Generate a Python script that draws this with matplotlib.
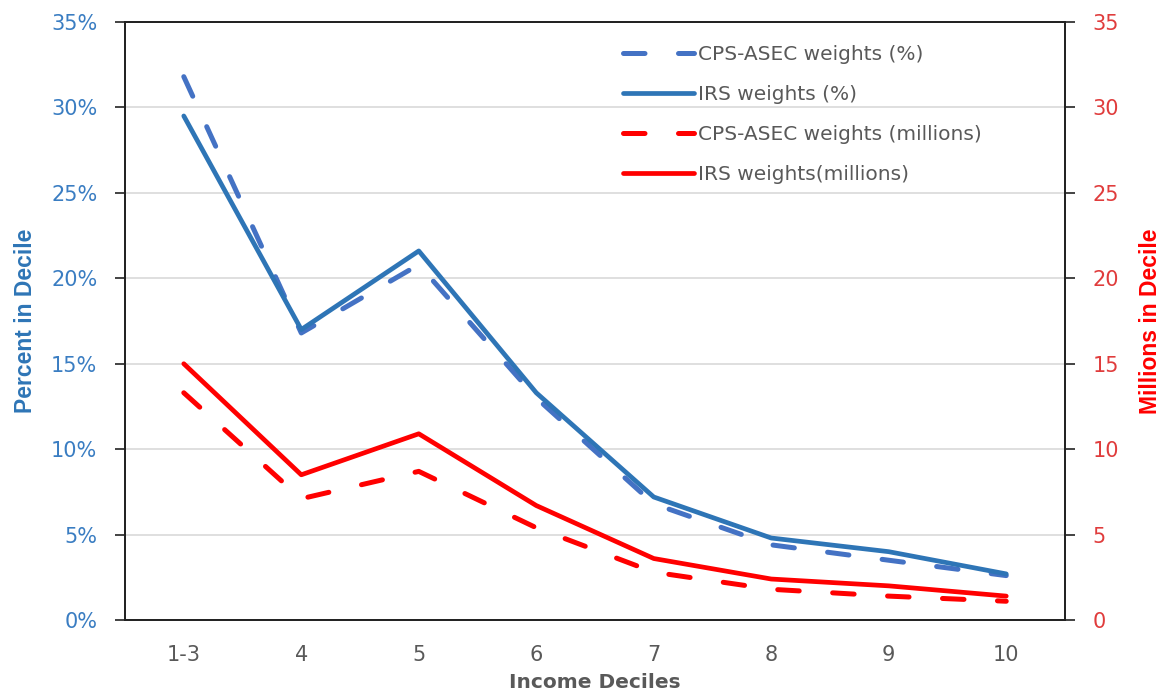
import numpy as np
import matplotlib.pyplot as plt
from matplotlib.ticker import FuncFormatter

# data
deciles = ['1-3', '4', '5', '6', '7', '8', '9', '10']
cps_pct = [31.8, 16.8, 20.8, 13.0, 6.8, 4.4, 3.5, 2.6]
irs_pct = [29.5, 17.0, 21.6, 13.3, 7.2, 4.8, 4.0, 2.7]
cps_mil = [13.3, 7.1, 8.7, 5.4, 2.8, 1.8, 1.4, 1.1]
irs_mil = [15.0, 8.5, 10.9, 6.7, 3.6, 2.4, 2.0, 1.4]

blue_dash = '#4472C4'
blue = '#2E75B6'
red = '#FF0000'
grey = '#595959'
dash = (0, (4.3, 6.7))

fig = plt.figure(figsize=(11.61, 6.98), dpi=100)
ax = fig.add_axes([0.1077, 0.1117, 0.8096, 0.8568])
ax2 = ax.twinx()

x = np.arange(len(deciles))

l1, = ax.plot(x, cps_pct, color=blue_dash, lw=3.6, ls=dash,
              dash_capstyle='round', label='CPS-ASEC weights (%)')
l2, = ax.plot(x, irs_pct, color=blue, lw=3.4, solid_capstyle='round',
              label='IRS weights (%)')
l3, = ax2.plot(x, cps_mil, color=red, lw=3.6, ls=dash,
               dash_capstyle='round', label='CPS-ASEC weights (millions)')
l4, = ax2.plot(x, irs_mil, color=red, lw=3.4, solid_capstyle='round',
               label='IRS weights(millions)')

ax.set_xlim(-0.5, len(deciles) - 0.5)
ax.set_ylim(0, 35)
ax2.set_ylim(0, 35)
ax.set_yticks(np.arange(0, 36, 5))
ax2.set_yticks(np.arange(0, 36, 5))
ax.yaxis.set_major_formatter(FuncFormatter(lambda v, p: '%d%%' % v))

ax.set_xticks(x)
ax.set_xticklabels(deciles)
ax.tick_params(axis='x', length=0, pad=18, labelsize=15, labelcolor=grey)
ax.tick_params(axis='y', length=7, width=1.2, pad=13, labelsize=15,
               labelcolor='#3A7DC2', color='#222222')
ax2.tick_params(axis='y', length=7, width=1.2, pad=13, labelsize=15,
                labelcolor='#E03C3C', color='#222222')

ax.grid(axis='y', color='#D9D9D9', lw=1.2)
ax.set_axisbelow(True)
for a in (ax, ax2):
    for s in a.spines.values():
        s.set_color('#222222')
        s.set_linewidth(1.3)

ax.set_ylabel('Percent in Decile', color=blue, fontsize=16.5, fontweight='bold',
              family='Liberation Sans', labelpad=10)
ax2.set_ylabel('Millions in Decile', color=red, fontsize=16.5, fontweight='bold',
               family='Liberation Sans', labelpad=14)
ax.set_xlabel('Income Deciles', color=grey, fontsize=14.5, fontweight='bold',
              labelpad=6)

leg = ax2.legend(handles=[l1, l2, l3, l4], loc='upper left',
                 bbox_to_anchor=(0.530, 0.962), borderpad=0, borderaxespad=0,
                 frameon=False, fontsize=14.5, handlelength=3.5,
                 labelspacing=1.05, handletextpad=0.2)
for t in leg.get_texts():
    t.set_color(grey)

fig.savefig('out.png', dpi=100)
